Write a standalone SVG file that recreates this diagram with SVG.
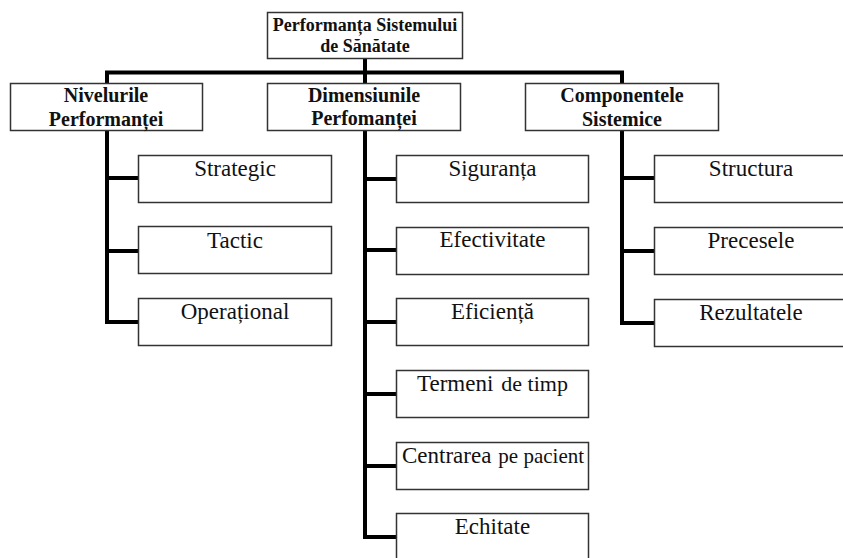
<svg xmlns="http://www.w3.org/2000/svg" width="843" height="558" viewBox="0 0 843 558">
<style>
.box{fill:#fff;stroke:#333;stroke-width:1.5}
.con{fill:none;stroke:#000;stroke-width:4;stroke-linejoin:miter}
text{font-family:'Liberation Serif','Tinos','DejaVu Serif','Noto Serif',serif;fill:#111;text-anchor:middle}
.h{font-weight:bold;font-size:20px}
.r{font-weight:bold;font-size:18px}
.t{font-size:23px}
</style>
<rect width="843" height="558" fill="#fff"/>
<g id="connectors">
<path class="con" d="M365,59 V83"/>
<path class="con" d="M107,83 V72.5 H622 V83"/>
<path class="con" d="M107,131 V322 H138"/>
<path class="con" d="M107,178 H138 M107,251 H138"/>
<path class="con" d="M365,131 V537 H396"/>
<path class="con" d="M365,179 H396 M365,250 H396 M365,322 H396 M365,394 H396 M365,466 H396"/>
<path class="con" d="M622,131 V323 H654"/>
<path class="con" d="M622,178 H654 M622,251 H654"/>
</g>
<g id="root">
<rect class="box" x="267.5" y="12.5" width="195" height="46"/>
<text class="r" x="365" y="31">Performanța Sistemului</text>
<text class="r" x="365" y="52">de Sănătate</text>
</g>
<g id="nivelurile">
<rect class="box" x="10.5" y="83.5" width="192" height="47"/>
<text class="h" x="106" y="102">Nivelurile</text>
<text class="h" x="106" y="126">Performanței</text>
</g>
<g id="dimensiunile">
<rect class="box" x="267.5" y="83.5" width="193" height="47"/>
<text class="h" x="364" y="102">Dimensiunile</text>
<text class="h" x="364" y="125">Perfomanței</text>
</g>
<g id="componentele">
<rect class="box" x="525.5" y="83.5" width="193" height="47"/>
<text class="h" x="622" y="102">Componentele</text>
<text class="h" x="622" y="126">Sistemice</text>
</g>
<g id="strategic">
<rect class="box" x="138.5" y="155.5" width="193" height="47"/>
<text class="t" x="235" y="176">Strategic</text>
</g>
<g id="tactic">
<rect class="box" x="138.5" y="226.5" width="193" height="47"/>
<text class="t" x="235" y="248">Tactic</text>
</g>
<g id="operational">
<rect class="box" x="138.5" y="298.5" width="193" height="47"/>
<text class="t" x="235" y="319">Operațional</text>
</g>
<g id="siguranta">
<rect class="box" x="396.5" y="155.5" width="192" height="47"/>
<text class="t" x="492.5" y="176">Siguranța</text>
</g>
<g id="efectivitate">
<rect class="box" x="396.5" y="227.5" width="192" height="47"/>
<text class="t" x="492.5" y="247">Efectivitate</text>
</g>
<g id="eficienta">
<rect class="box" x="396.5" y="298.5" width="192" height="47"/>
<text class="t" x="492.5" y="319">Eficiență</text>
</g>
<g id="termeni">
<rect class="box" x="396.5" y="370.5" width="192" height="47"/>
<text class="t" x="492.5" y="391">Termeni<tspan dx="8" font-size="22">de timp</tspan></text>
</g>
<g id="centrarea">
<rect class="box" x="396.5" y="442.5" width="192" height="47"/>
<text class="t" x="493" y="463">Centrarea<tspan dx="7" font-size="21">pe pacient</tspan></text>
</g>
<g id="echitate">
<rect class="box" x="396.5" y="513.5" width="192" height="47"/>
<text class="t" x="492.5" y="534">Echitate</text>
</g>
<g id="structura">
<rect class="box" x="654.5" y="155.5" width="194" height="47"/>
<text class="t" x="751" y="176">Structura</text>
</g>
<g id="precesele">
<rect class="box" x="654.5" y="227.5" width="194" height="47"/>
<text class="t" x="751" y="248">Precesele</text>
</g>
<g id="rezultatele">
<rect class="box" x="654.5" y="299.5" width="194" height="47"/>
<text class="t" x="751" y="320">Rezultatele</text>
</g>
</svg>
